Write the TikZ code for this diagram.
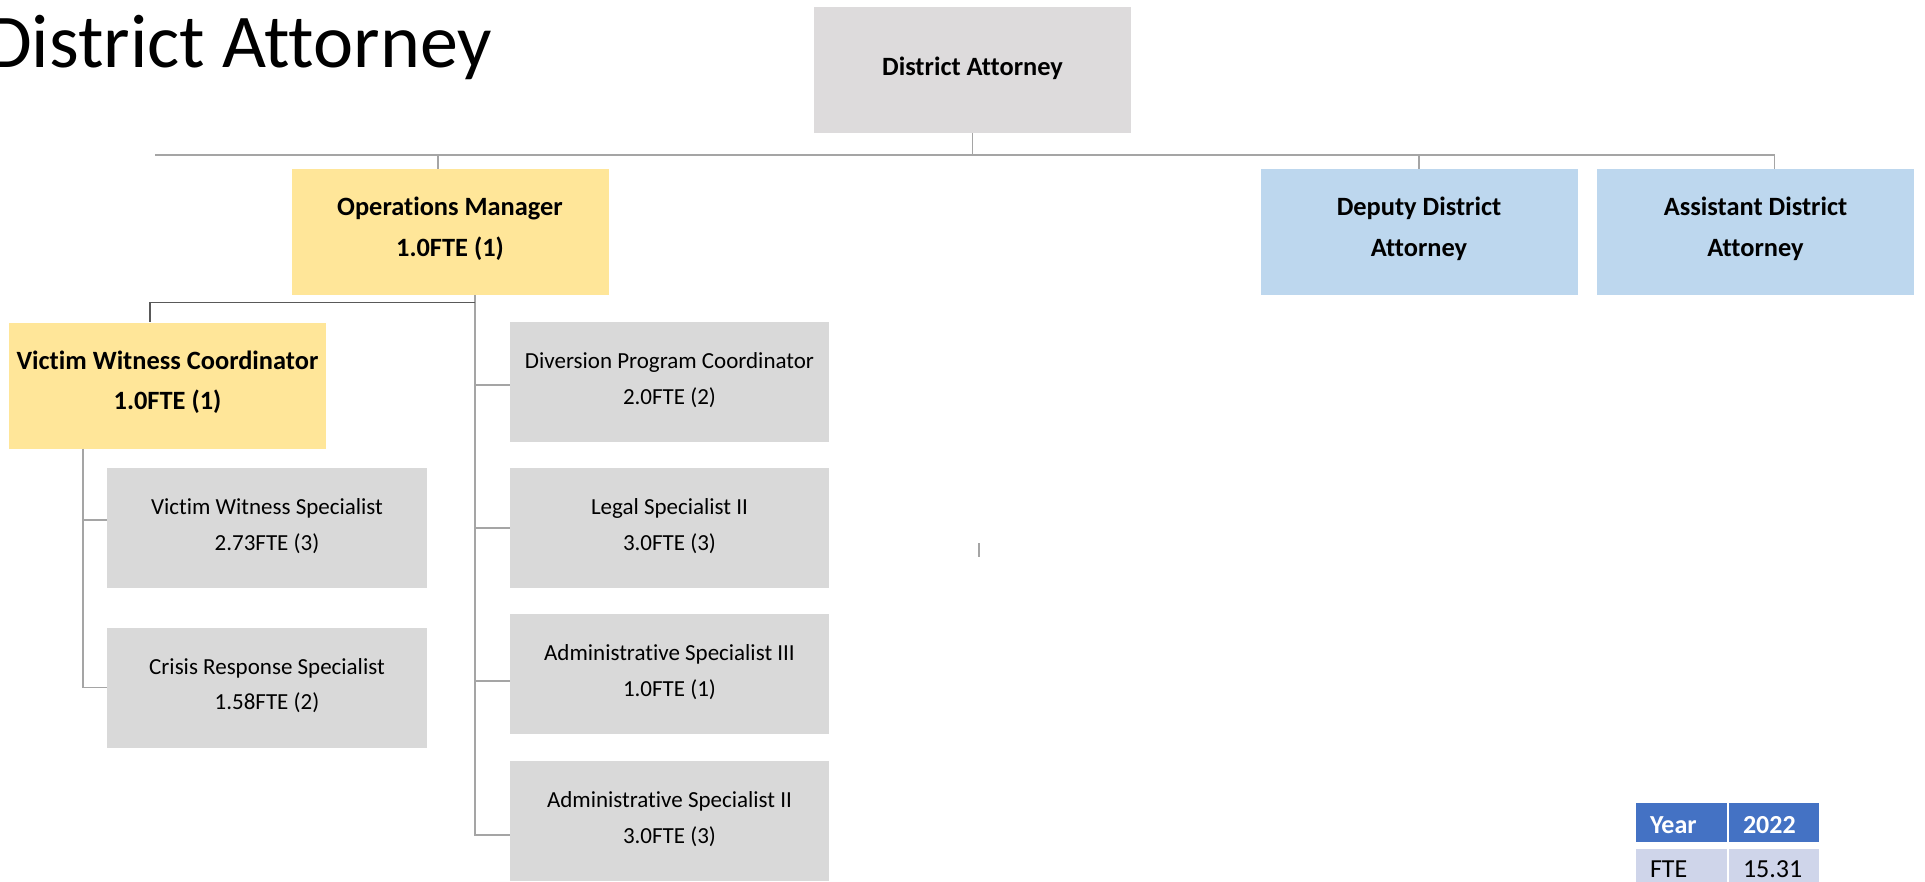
\documentclass[tikz,border=0pt]{standalone}
\usepackage{fontspec}
\setmainfont{Carlito}[Ligatures=NoCommon]
\usetikzlibrary{calc}
\definecolor{boxgray}{HTML}{D9D9D9}
\definecolor{dagray}{HTML}{DDDBDC}
\definecolor{boxyellow}{HTML}{FFE699}
\definecolor{boxblue}{HTML}{BDD7EE}
\definecolor{linegray}{HTML}{A5A5A5}
\definecolor{linedark}{HTML}{595959}
\definecolor{tblhead}{HTML}{4472C4}
\definecolor{tblrow}{HTML}{CFD5EA}
\begin{document}
\begin{tikzpicture}[x=1pt,y=-1pt,
  box/.style={rectangle, inner sep=0pt, align=center, text=black},
  bigbox/.style={box, minimum width=317pt, minimum height=126pt, text height=48pt, text depth=0pt, font=\bfseries\fontsize{26.4}{40.5}\selectfont},
  smallbox/.style={box, fill=boxgray, minimum width=320pt, minimum height=120pt, text height=44pt, text depth=0pt, font=\fontsize{23}{35.5}\selectfont},
  conn/.style={draw=linegray, line width=1.4pt},
  darkconn/.style={draw=linedark, line width=1.2pt},
  tcell/.style={rectangle, inner xsep=14pt, inner ysep=0pt, minimum height=39pt, text depth=0pt, align=left, font=\fontsize{26}{30}\selectfont},
]
\useasboundingbox (0,0) rectangle (1925,881);

% title
\node[anchor=base east, inner sep=0pt, font=\fontsize{76}{90}\selectfont] (title) at (492,67) {District Attorney};

% boxes
\node[bigbox, fill=dagray, text height=11pt] (da) at (972.5,70) {District Attorney};
\node[bigbox, fill=boxyellow] (ops) at (450,232) {Operations Manager\\1.0FTE (1)};
\node[bigbox, fill=boxblue] (dep) at (1419,232) {Deputy District\\Attorney};
\node[bigbox, fill=boxblue] (asst) at (1755.5,232) {Assistant District\\Attorney};
\node[bigbox, fill=boxyellow] (vwc) at (167.5,385.5) {Victim Witness Coordinator\\1.0FTE (1)};

\node[smallbox] (vws) at (267,528) {Victim Witness Specialist\\2.73FTE (3)};
\node[smallbox] (crs) at (267,687.5) {Crisis Response Specialist\\1.58FTE (2)};

\node[smallbox, minimum width=319pt] (div) at (669.5,382) {Diversion Program Coordinator\\2.0FTE (2)};
\node[smallbox, minimum width=319pt] (legal) at (669.5,528) {Legal Specialist II\\3.0FTE (3)};
\node[smallbox, minimum width=319pt] (a3) at (669.5,674) {Administrative Specialist III\\1.0FTE (1)};
\node[smallbox, minimum width=319pt] (a2) at (669.5,821) {Administrative Specialist II\\3.0FTE (3)};

% top bus
\coordinate (busL) at (155,155);
\draw[conn] (busL) -- ([xshift=19pt]asst.north |- busL) -- ([xshift=19pt]asst.north);
\draw[conn] (da.south) -- (da.south |- busL);
\draw[conn] ([xshift=-12pt]ops.north) -- ([xshift=-12pt]ops.north |- busL);
\draw[conn] (dep.north) -- (dep.north |- busL);

% operations manager subtree
\coordinate (opsdown) at ([xshift=25pt]ops.south);
\coordinate (opsj) at ($(opsdown)+(0,7)$);
\draw[conn] (opsdown) |- ([yshift=-14pt]a2.west);
\draw[conn] ([yshift=-3pt]div.west) -- ([yshift=-3pt]div.west -| opsdown);
\draw[conn] (legal.west) -- (legal.west -| opsdown);
\draw[conn] ([yshift=-7pt]a3.west) -- ([yshift=-7pt]a3.west -| opsdown);
\draw[darkconn] (opsj) -| ([xshift=-17.5pt]vwc.north);

% victim witness coordinator subtree
\coordinate (vwcdown) at ([xshift=-84.5pt]vwc.south);
\draw[conn] (vwcdown) |- (crs.west);
\draw[conn] ([yshift=8pt]vws.west) -- ([yshift=8pt]vws.west -| vwcdown);

% stray mark
\coordinate (s1) at (979,543);
\coordinate (s2) at (979,557);
\draw[conn] (s1) -- (s2);

% table
\node[tcell, fill=tblhead, text=white, text width=63pt, text height=22pt, font=\bfseries\fontsize{26}{30}\selectfont] (year) at (1681.5,822.5) {Year};
\node[tcell, fill=tblhead, text=white, text width=62pt, text height=22pt, font=\bfseries\fontsize{26}{30}\selectfont] (y2022) at (1774,822.5) {2022};
\node[tcell, fill=tblrow, text=black, text width=63pt, text height=17pt] (fte) at (1681.5,868.5) {FTE};
\node[tcell, fill=tblrow, text=black, text width=62pt, text height=17pt] (fteval) at (1774,868.5) {15.31};
\end{tikzpicture}
\end{document}
